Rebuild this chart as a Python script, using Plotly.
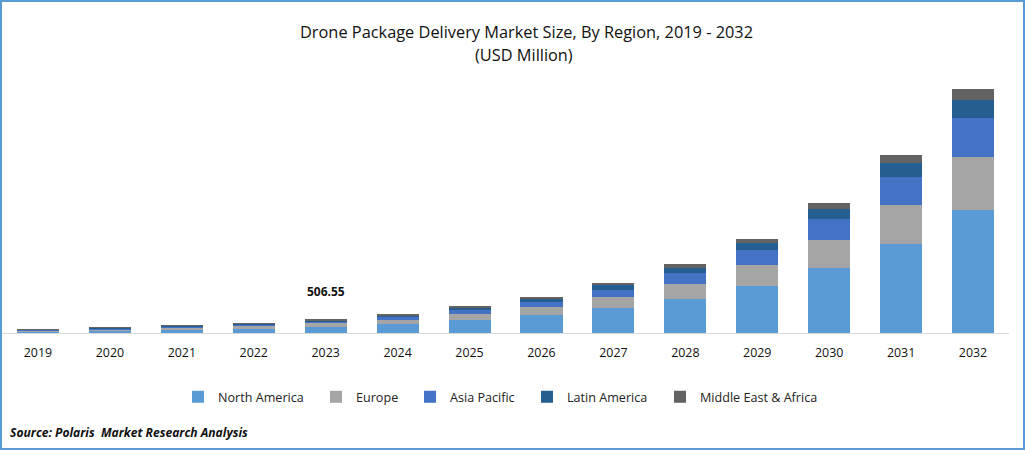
import plotly.graph_objects as go

years = ["2019","2020","2021","2022","2023","2024","2025","2026","2027","2028","2029","2030","2031","2032"]
north_america = [54, 83, 119, 145, 217, 336, 481, 662, 915, 1241, 1711, 2363, 3231, 4461]
europe = [36, 54, 72, 119, 145, 134, 217, 289, 398, 543, 760, 1013, 1411, 1918]
asia_pacific = [25, 36, 36, 47, 72, 109, 145, 181, 253, 398, 543, 760, 1013, 1411]
latin_america = [18, 25, 36, 25, 36, 72, 72, 109, 181, 181, 253, 362, 507, 651]
middle_east_africa = [11, 18, 25, 25, 37, 36, 36, 72, 72, 145, 145, 217, 289, 398]
series = [("North America", north_america, "#5B9BD5", "legend", 178),
          ("Europe", europe, "#A5A5A5", "legend2", 316),
          ("Asia Pacific", asia_pacific, "#4472C4", "legend3", 410),
          ("Latin America", latin_america, "#255E91", "legend4", 527),
          ("Middle East & Africa", middle_east_africa, "#636363", "legend5", 660)]
FONT = "Open Sans"
fig = go.Figure()
legends = {}
for name, vals, col, leg, lx in series:
    fig.add_bar(x=years, y=vals, name=name, legend=leg, marker=dict(color=col, line=dict(width=0)))
    legends[leg] = dict(x=(lx - 2) / 1007, xanchor="left", y=-0.194, yanchor="top", bgcolor="rgba(0,0,0,0)",
                        font=dict(size=12.6, color="#222"))
fig.update_layout(
    barmode="stack", bargap=0.415, width=1025, height=450, showlegend=True,
    margin=dict(l=2, r=16, t=80, b=117, autoexpand=False), paper_bgcolor="white", plot_bgcolor="white",
    font=dict(family=FONT, size=12, color="#111"),
    xaxis=dict(type="category", range=[-0.5, 13.5], showline=True, linecolor="#D9D9D9", linewidth=1, ticks="", ticklabelstandoff=8, tickfont=dict(size=12.4, color="#111")),
    yaxis=dict(visible=False, range=[0, 9154]),
    annotations=[
        dict(text="Drone Package Delivery Market Size, By Region, 2019 - 2032", xref="paper", yref="paper", x=0.5205, y=1.188, yanchor="middle", showarrow=False, font=dict(size=16.35, color="#111")),
        dict(text="(USD Million)", xref="paper", yref="paper", x=0.5185, y=1.10, yanchor="middle", showarrow=False, font=dict(size=16.35, color="#111")),
        dict(text="<b>506.55</b>", x=4, y=1500, xref="x", yref="y", showarrow=False, font=dict(size=12, color="#111")),
        dict(text="<b><i>Source: Polaris  Market Research Analysis</i></b>", xref="paper", yref="paper", x=0.006, xanchor="left", y=-0.395, yanchor="middle", showarrow=False, font=dict(size=12.1, color="#111")),
    ],
    **legends,
)
fig.add_shape(type="rect", xref="paper", yref="paper", x0=-0.001, x1=1.0149, y0=-0.4585, y1=1.312, line=dict(color="#5B9BD5", width=2), fillcolor="rgba(0,0,0,0)")
fig.write_html("out.html", config={"displayModeBar": False}, post_script="document.body.style.margin='0';document.documentElement.style.overflow='hidden';")
